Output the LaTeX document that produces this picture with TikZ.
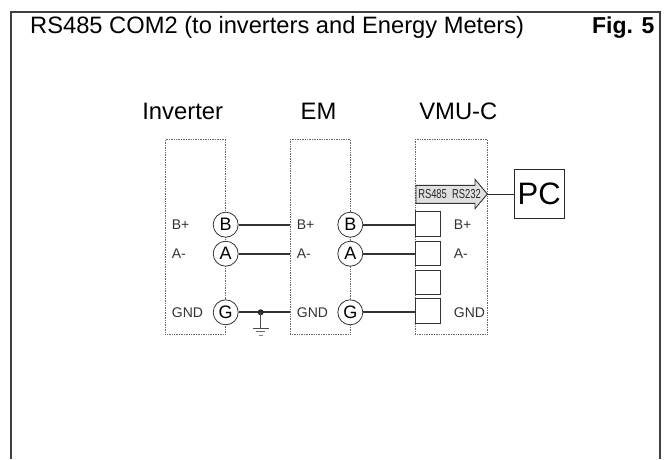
\documentclass[tikz,border=0pt]{standalone}
\usepackage{fontspec}
\setmainfont{Liberation Sans}
\usetikzlibrary{calc}

\tikzset{
    devbox/.style={draw=black!60, densely dotted, line width=.7pt, minimum height=194.7pt, inner sep=0pt},
    term/.style={draw=black!80, circle, fill=white, line width=.8pt, minimum size=25pt, inner sep=0pt, font=\fontsize{18}{18}\selectfont},
    sq/.style={draw=black!80, fill=white, line width=.9pt, minimum size=24.7pt, inner sep=0pt},
    pin/.style={anchor=west, inner sep=0pt, text=black!80, font=\fontsize{14}{14}\selectfont},
    head/.style={anchor=base, inner sep=0pt, font=\fontsize{23.8}{23.8}\selectfont},
    wire/.style={draw=black!80, line width=1.9pt}
}

\begin{document}
\begin{tikzpicture}[x=1pt, y=-1pt]
    \def\Yb{224.7} \def\Ya{253.7} \def\Yg{312.3}
    \def\Xi{225.7} \def\Xe{350.3}
    \useasboundingbox (0, 0) rectangle (671, 459);

    % page frame
    \draw [black!75, line width=1.7pt] (11, 459) -- (11, 12) -- (660, 12) -- (660, 459);
    \node (title) [anchor=base west, inner sep=0pt, font=\fontsize{23.7}{23.7}\selectfont] at (30, 33.7) {RS485 COM2 (to inverters and Energy Meters)};
    \node (fig) [anchor=base east, inner sep=0pt, font=\fontsize{23}{23}\selectfont\bfseries] at (654.5, 33.7) {Fig. 5};

    \node (inv) [devbox, minimum width=60.4pt] at (195.5, 236.6) {};
    \node (em) [devbox, minimum width=60pt] at (320.3, 236.6) {};
    \node (vmu) [devbox, minimum width=72pt] at (451.3, 236.6) {};

    \node (invhead) [head] at (182.7, 119.3) {Inverter};
    \node (emhead) [head] at (318.5, 119.3) {EM};
    \node (vmuhead) [head] at (458.3, 119.3) {VMU-C};

    % terminals
    \foreach \n/\y in {B/\Yb, A/\Ya, G/\Yg} {
        \node (i\n) [term] at (\Xi, \y) {\n};
        \node (e\n) [term] at (\Xe, \y) {\n};
    }
    \node (vB) [sq] at (427.8, 223.6) {};
    \node (vA) [sq] at (427.8, 253.3) {};
    \node (vN) [sq] at (427.8, 282.3) {};
    \node (vG) [sq] at (427.8, 311) {};

    % pin names
    \foreach \x/\t in {171.7/i, 296.7/e, 453.7/v} {
        \node (\t bp) [pin] at (\x, \Yb) {B+};
        \node (\t am) [pin] at (\x, \Ya) {A-};
        \node (\t gn) [pin] at (\x, \Yg) {GND};
    }

    % wires
    \draw [wire] (iB) -- (iB -| em.west);
    \draw [wire] (iA) -- (iA -| em.west);
    \draw [wire] (iG) -- (iG -| em.west);
    \draw [wire] (eB) -- (eB -| vmu.west);
    \draw [wire] (eA) -- (eA -| vmu.west);
    \draw [wire] (eG) -- (eG -| vmu.west);

    % ground
    \coordinate (gnd) at (260.7, \Yg);
    \coordinate (gndl) at (260.7, 328);
    \fill [black!85] (gnd) circle (3);
    \draw [black!70, line width=1pt] (gnd) -- (gndl);
    \draw [black!70, line width=1pt] ($ (gndl) + (-8, 0) $) -- ($ (gndl) + (8, 0) $);
    \draw [black!60, line width=1pt] ($ (gndl) + (-4.5, 3.5) $) -- ($ (gndl) + (4.5, 3.5) $);
    \draw [black!50, line width=1pt] ($ (gndl) + (-2, 7) $) -- ($ (gndl) + (2, 7) $);

    % converter arrow
    \coordinate (tip) at (487.3, 194);
    \draw [fill=black!12, draw=black!80, line width=.9pt] (416, 185.3) -- (475, 185.3) -- (475, 179.3) -- (tip) -- (475, 208.7) -- (475, 203.3) -- (416, 203.3) -- cycle;
    \node (rs) [inner sep=0pt, xscale=.72, text=black!85, font=\fontsize{13}{13}\selectfont] at (449.5, 194.5) {RS485\ \ RS232};

    \node (pc) [draw=black!85, line width=.9pt, minimum size=49.5pt, inner sep=0pt, font=\fontsize{31}{31}\selectfont] at (539.2, 194) {PC};
    \draw [black!85, line width=1pt] (tip) -- (pc);
\end{tikzpicture}
\end{document}
